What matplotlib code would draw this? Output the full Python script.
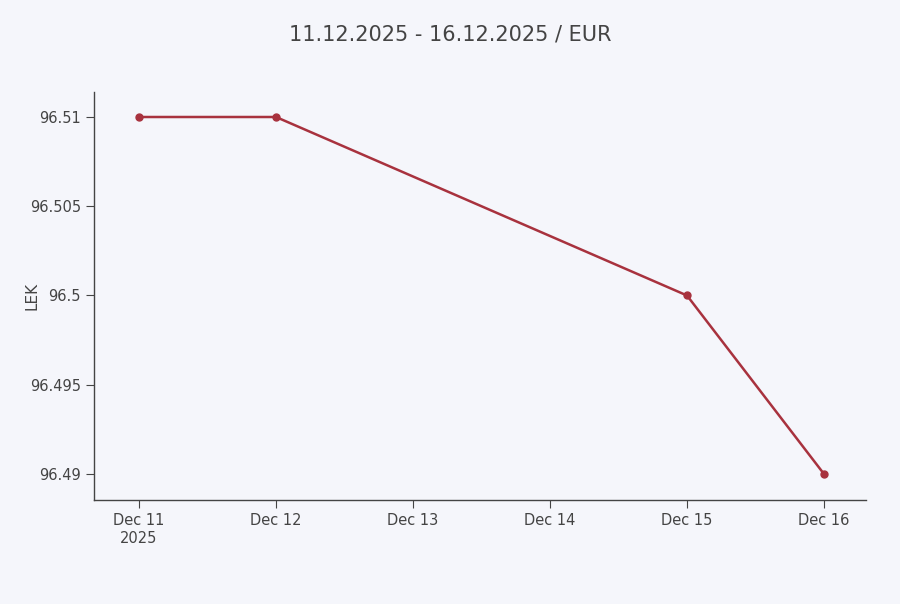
import matplotlib
matplotlib.use("Agg")
import matplotlib.pyplot as plt
import numpy as np

dates = [11, 12, 15, 16]
values = [96.51, 96.51, 96.50, 96.49]
xtick_pos = [11, 12, 13, 14, 15, 16]
xtick_labels = ["Dec 11\n2025", "Dec 12", "Dec 13", "Dec 14", "Dec 15", "Dec 16"]
ytick_pos = [96.49, 96.495, 96.5, 96.505, 96.51]
ytick_labels = ["96.49", "96.495", "96.5", "96.505", "96.51"]

bg = "#f5f6fb"
W, H = 900, 604
fig = plt.figure(figsize=(9, 6.04), dpi=100, facecolor=bg)
ax = fig.add_axes([94/W, 1-500/H, (866-94)/W, (500-92)/H], facecolor=bg)
ax.plot(dates, values, color="#a8323e", lw=1.8, marker="o", ms=5)
ax.set_xlim(11-45/137, 16+42/137)
ax.set_ylim(96.49-26/89.25*0.005, 96.51+25/89.25*0.005)
ax.set_xticks(xtick_pos)
ax.set_xticklabels(xtick_labels)
ax.set_yticks(ytick_pos)
ax.set_yticklabels(ytick_labels)
for s in ["top", "right"]:
    ax.spines[s].set_visible(False)
for s in ["left", "bottom"]:
    ax.spines[s].set_color("#444444")
    ax.spines[s].set_linewidth(1)
ax.tick_params(colors="#444444", labelsize=10.5, length=6, direction="out", labelcolor="#444444")
ax.set_ylabel("LEK", color="#444444", fontsize=11)
ax.yaxis.set_label_coords((40-94)/(866-94), 0.5)
fig.text(450/W, 1-34/H, "11.12.2025 - 16.12.2025 / EUR", ha="center", va="center",
         fontsize=15, color="#444444")
fig.savefig("out.png", dpi=100, facecolor=bg)
